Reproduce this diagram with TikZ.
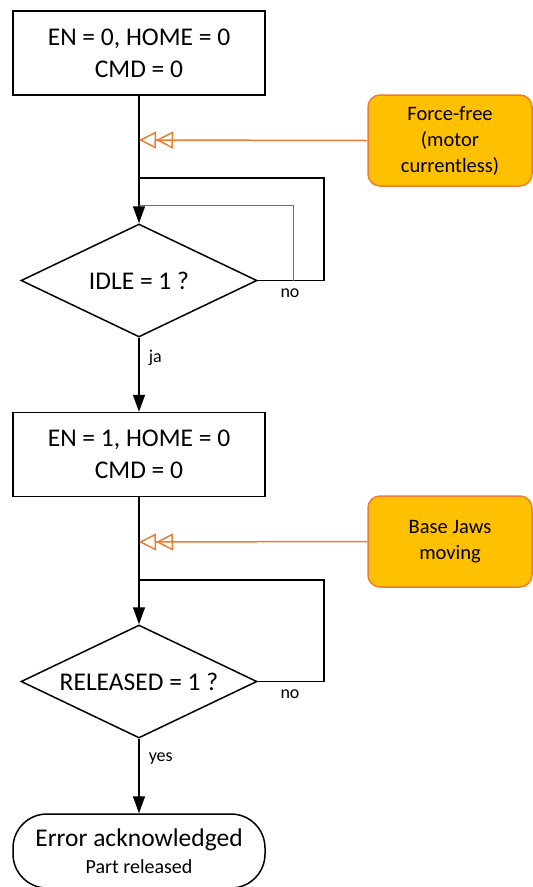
\documentclass[tikz,border=0pt]{standalone}
\usepackage{fontspec}
\setmainfont{Carlito}
\usetikzlibrary{arrows.meta,shapes.geometric,positioning}
\definecolor{orng}{HTML}{ED7D31}
\definecolor{gold}{HTML}{FFC000}
\definecolor{blu}{HTML}{4472C4}
\tikzset{
  proc/.style={draw=black,line width=1.5pt,minimum width=252pt,minimum height=84pt,inner sep=0pt,align=center,font=\fontsize{25.5}{32}\selectfont},
  dec/.style={draw=black,line width=1.5pt,diamond,aspect=2.09,minimum width=236pt,minimum height=113pt,inner sep=0pt,font=\fontsize{25.5}{28}\selectfont},
  note/.style={draw=orng,fill=gold,line width=1.5pt,rounded corners=12pt,minimum width=164pt,minimum height=91pt,align=center,font=\fontsize{20.5}{26}\selectfont},
  term/.style={draw=black,line width=1.5pt,rounded corners=34pt,minimum width=252pt,minimum height=74pt,inner sep=0pt,align=center},
  flow/.style={line width=1.5pt,-{Triangle[length=17pt,width=12pt]}},
  line/.style={line width=1.5pt},
  hint/.style={draw=orng,line width=1.5pt,-{Triangle[open,length=17pt,width=17pt,sep=0pt]Triangle[open,length=17pt,width=17pt]}},
  lbl/.style={font=\fontsize{18}{20}\selectfont,inner sep=0pt}
}
\begin{document}
\begin{tikzpicture}[x=1pt,y=-1pt]
\useasboundingbox (0,0) rectangle (533,887);
\node[proc] (b1) at (139,53) {EN = 0, HOME = 0\\CMD = 0};
\node[note] (n1) at (450,140.5) {Force-free\\(motor\\currentless)};
\node[dec] (d1) at (139,280.5) {IDLE = 1 ?};
\node[proc] (b2) at (139,454.5) {EN = 1, HOME = 0\\CMD = 0};
\node[note] (n2) at (450,541.5) {Base Jaws\\moving};
\node[dec] (d2) at (139,681.5) {RELEASED = 1 ?};
\node[term] (t) at (139,851) {};
\node[font=\fontsize{25.5}{28}\selectfont,inner sep=0pt] (t1) at (139,840) {Error acknowledged};
\node[font=\fontsize{20}{24}\selectfont,inner sep=0pt] (t2) at (139,867) {Part released};
\coordinate (h1) at (139,140);
\coordinate (h2) at (139,542);
\coordinate (j1) at (139,178);
\coordinate (j2) at (139,580);
\coordinate (r1) at (324,280.5);
\coordinate (r2) at (324,681.5);
\coordinate (bl1) at (139,205);
\coordinate (bl2) at (293,205);
\coordinate (bl3) at (293,280.5);
% flow
\draw[flow] (b1.south) -- (d1.north);
\draw[flow] (d1.south) -- node[lbl,right=9pt,pos=0.27]{ja} (b2.north);
\draw[flow] (b2.south) -- (d2.north);
\draw[flow] (d2.south) -- node[lbl,right=9pt,pos=0.27]{yes} (t.north);
% loops
\draw[line] (d1.east) -- (r1) |- (j1);
\draw[line] (d2.east) -- (r2) |- (j2);
\node[lbl] (no1) at (290,293) {no};
\node[lbl] (no2) at (290,694) {no};
% blue
\draw[blu,line width=1pt] (bl1) -- (bl2) -- (bl3);
% hints
\draw[hint] (n1.west) -- (h1);
\draw[hint] (n2.west) -- (h2);
\end{tikzpicture}
\end{document}
